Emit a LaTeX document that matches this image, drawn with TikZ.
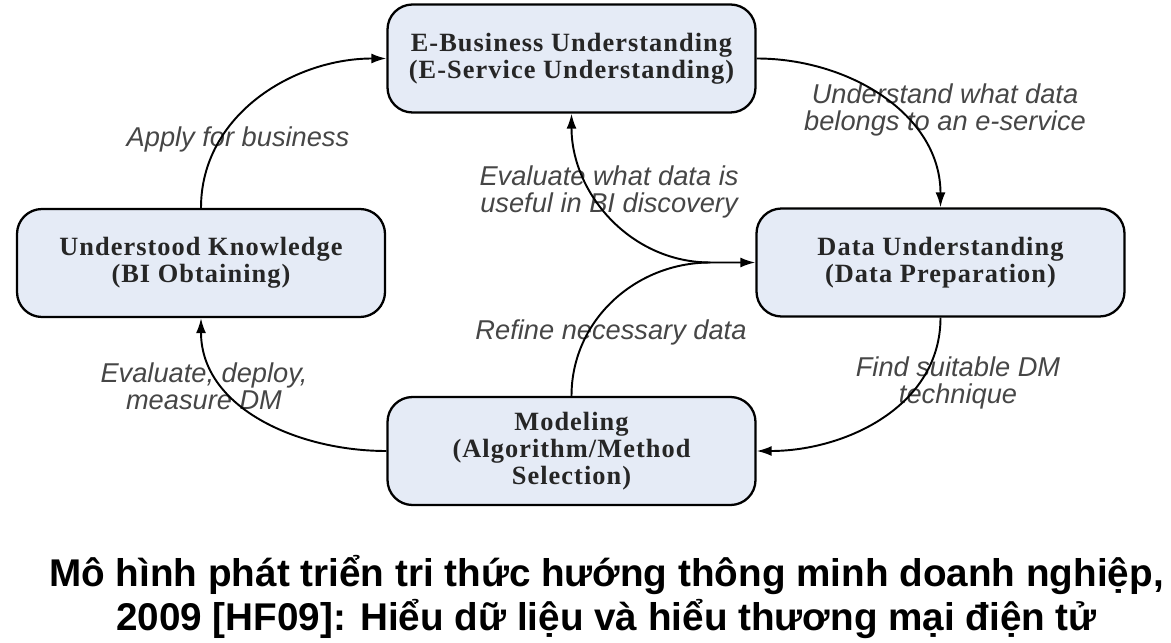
\documentclass[tikz,border=0pt]{standalone}
\usepackage{fontspec}
\setmainfont{Liberation Serif}
\newfontfamily\boxfont[LetterSpace=4]{Liberation Serif}
\newfontfamily\tagfont{Liberation Sans}
\newfontfamily\capfont{Liberation Sans}
\usetikzlibrary{calc}
\usetikzlibrary{arrows.meta}
\definecolor{boxblue}{RGB}{229,235,246}
\definecolor{tagGray}{RGB}{70,70,70}
\tikzset{
  stage/.style={draw=black, line width=1.3pt, fill=boxblue, rounded corners=0.5cm,
    minimum width=7.36cm, minimum height=2.16cm, align=center,
    font=\boxfont\bfseries\fontsize{15}{15.5}\selectfont, text=black!85},
  flow/.style={draw, line width=1.1pt, -{Latex[length=3mm,width=2mm]}},
  tag/.style={align=center, text=tagGray, font=\tagfont\itshape\fontsize{15.5}{15.3}\selectfont},
  caption/.style={align=center, font=\capfont\bfseries\fontsize{22}{25.5}\selectfont}
}

\begin{document}
\begin{tikzpicture}
\useasboundingbox (0,0) rectangle (23.42,12.84);

% the four stages
\node[stage] (ebiz) at (11.43,11.67) {E-Business Understanding\\(E-Service Understanding)};
\node[stage] (know) at (4.02,7.58) {Understood Knowledge\\(BI Obtaining)};
\node[stage] (data) at (18.81,7.59) {Data Understanding\\(Data Preparation)};
\node[stage] (model) at (11.43,3.82) {Modeling\\(Algorithm/Method\\Selection)};

% labels on the cycle
\node[tag] (apply) at (4.76,10.06) {Apply for business};
\node[tag] (belong) at (18.9,10.64) {Understand what data\\belongs to an e-service};
\node[tag] (useful) at (12.18,9.0) {Evaluate what data is\\useful in BI discovery};
\node[tag] (refine) at (12.22,6.2) {Refine necessary data};
\node[tag] (deploy) at (4.08,5.12) {Evaluate, deploy,\\measure DM};
\node[tag] (suit) at (19.16,5.18) {Find suitable DM\\technique};

\coordinate (merge) at ([xshift=-0.9cm]data.west);

\draw[flow] (know.north) to[out=90,in=180] (ebiz.west);
\draw[flow] (ebiz.east) to[out=0,in=90] (data.north);
\draw[flow] (data.south) to[out=-90,in=0] (model.east);
\draw[flow] (model.west) to[out=180,in=-90] (know.south);
\draw[flow] (model.north) to[out=90,in=180] (merge) -- (data.west);
\draw[flow] (merge) to[out=180,in=-90] (ebiz.south);

% caption
\node[caption] (caption) at (12.13,0.9) {Mô hình phát triển tri thức hướng thông minh doanh nghiệp,\\2009 [HF09]: Hiểu dữ liệu và hiểu thương mại điện tử};
\end{tikzpicture}
\end{document}
